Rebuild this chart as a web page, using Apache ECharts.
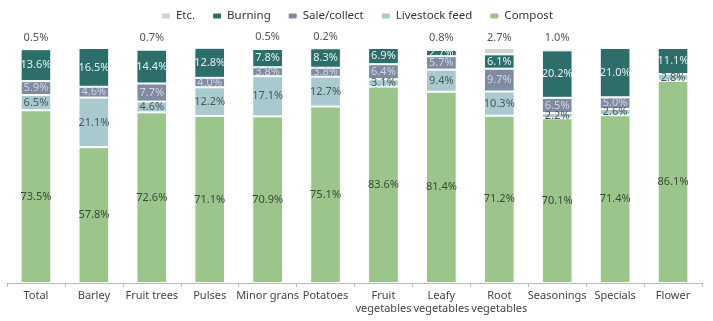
<!DOCTYPE html>
<html><head><meta charset="utf-8">
<script src="https://cdn.jsdelivr.net/npm/echarts@6/dist/echarts.min.js"></script>
<style>html,body{margin:0;padding:0;background:#fff}#c{width:713px;height:321px}</style>
</head><body><div id="c"></div>
<script>
const categories = ['Total','Barley','Fruit trees','Pulses','Minor grans','Potatoes','Fruit\nvegetables','Leafy\nvegetables','Root\nvegetables','Seasonings','Specials','Flower'];
const compost = [73.5,57.8,72.6,71.1,70.9,75.1,83.6,81.4,71.2,70.1,71.4,86.1];
const livestock = [6.5,21.1,4.6,12.2,17.1,12.7,3.1,9.4,10.3,2.2,2.6,2.8];
const sale = [5.9,4.6,7.7,4.0,3.8,3.8,6.4,5.7,9.7,6.5,5.0,null];
const burning = [13.6,16.5,14.4,12.8,7.8,8.3,6.9,2.7,6.1,20.2,21.0,11.1];
const etc = [0.5,null,0.7,null,0.5,0.2,null,0.8,2.7,1.0,null,null];

const font = 'Noto Sans';
const fmt = p => (p.value == null ? '' : p.value.toFixed(1) + '%');
function mk(name, data, color, labelColor, pos) {
  return {
    name, type: 'bar', stack: 'a', data, barWidth: '53%',
    itemStyle: { color, borderColor: '#fff', borderWidth: 1 },
    label: { show: true, position: pos || 'inside', formatter: fmt, color: labelColor, fontSize: 11, fontFamily: font },
    emphasis: { disabled: true }
  };
}
const chart = echarts.init(document.getElementById('c'));
chart.setOption({
  animation: false,
  textStyle: { fontFamily: font },
  legend: {
    data: ['Etc.','Burning','Sale/collect','Livestock feed','Compost'],
    top: 5, left: 'center', itemWidth: 10, itemHeight: 7, itemGap: 16,
    textStyle: { fontSize: 11.5, color: '#333', fontFamily: font }
  },
  grid: { left: 7, right: 11, top: 48, bottom: 38 },
  xAxis: {
    type: 'category', data: categories,
    axisLine: { lineStyle: { color: '#bbb' } },
    axisTick: { show: true, length: 4, lineStyle: { color: '#bbb' } },
    axisLabel: { fontSize: 11, color: '#444', lineHeight: 13, fontFamily: font, interval: 0, margin: 6 }
  },
  yAxis: { type: 'value', min: 0, max: 100, show: false, splitLine: { show: false } },
  series: [
    mk('Compost', compost, '#9cc58c', '#3c4a38'),
    mk('Livestock feed', livestock, '#a8c9cd', '#4a5a5c'),
    mk('Sale/collect', sale, '#7e8ba3', '#d0d4dc'),
    mk('Burning', burning, '#2d6e6b', '#e2efee'),
    mk('Etc.', etc, '#d3d3d3', '#555', 'top')
  ]
});
</script></body></html>
